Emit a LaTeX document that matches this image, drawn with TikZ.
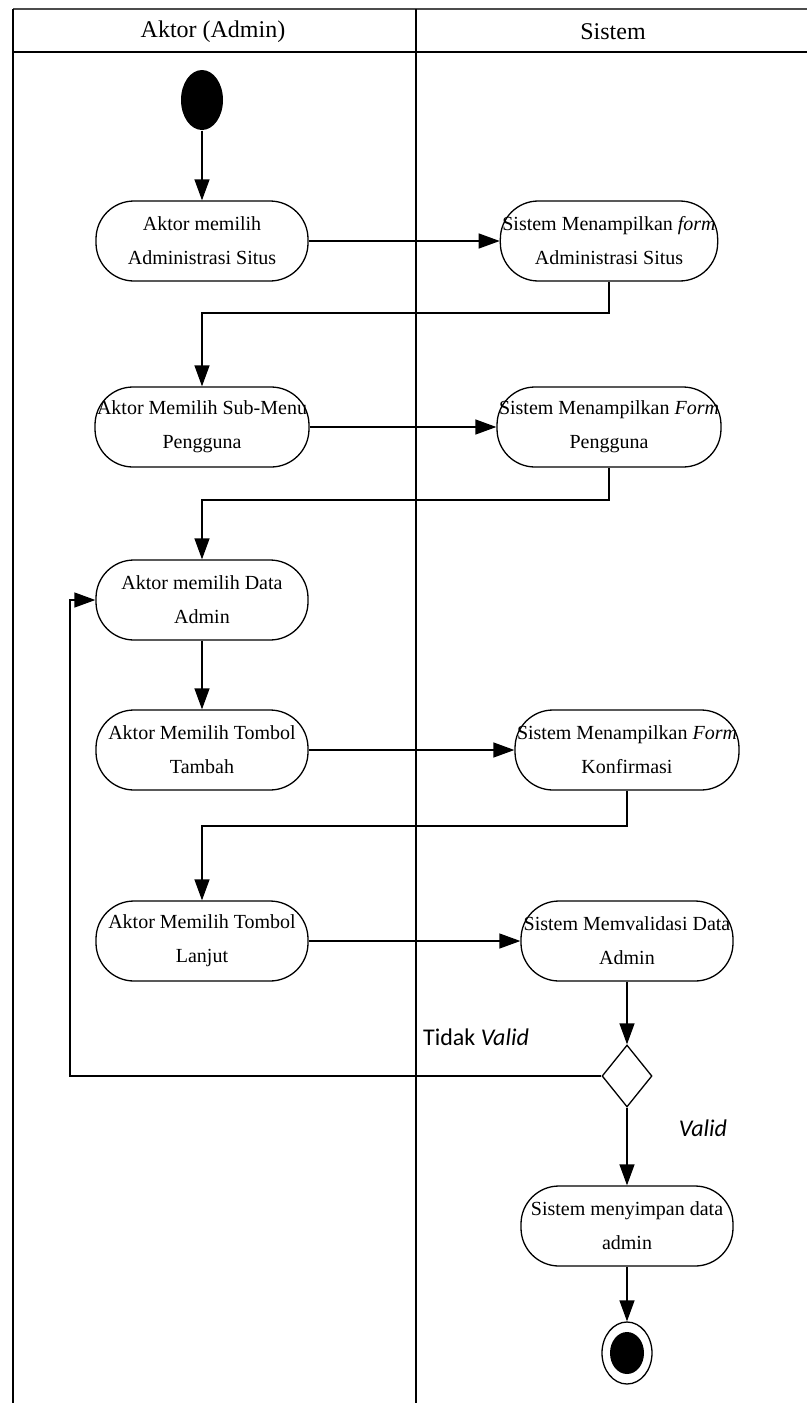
\documentclass[tikz,border=0pt]{standalone}
\usepackage{fontspec}
\setmainfont{Liberation Serif}
\newfontfamily\guardfont{Carlito}
\usetikzlibrary{arrows.meta,shapes.geometric}

\begin{document}
\begin{tikzpicture}[x=0.5pt,y=-0.5pt,line width=0.65pt,
  act/.style={draw,rounded corners=19pt,minimum width=106pt,minimum height=40pt,
    inner sep=1pt,align=center,font=\fontsize{10}{17}\selectfont},
  flow/.style={-{Triangle[length=10.5pt,width=7.5pt]}},
  lane/.style={line width=0.9pt},
  guard/.style={font=\guardfont\fontsize{12}{14}\selectfont}]
  \useasboundingbox (0,0) rectangle (807,1403);
  \draw[gray!60!black,line width=1.4pt] (13,9) -- (807,9);
  \draw[lane] (13,52) -- (807,52);
  \draw[lane] (13,9) -- (13,1403);
  \draw[lane] (416,9) -- (416,1403);
  \node[font=\fontsize{12}{14}\selectfont] (laneA) at (213,32) {Aktor (Admin)};
  \node[font=\fontsize{12}{14}\selectfont] (laneS) at (613,32) {Sistem};
  \node[ellipse,fill=black,minimum width=21pt,minimum height=30pt,inner sep=0] (mulai) at (202,100) {};
  \node[act] (A) at (202,241) {Aktor memilih\\Administrasi Situs};
  \node[act,minimum width=107pt] (B) at (609,241) {Sistem Menampilkan \textit{form}\\Administrasi Situs};
  \node[act] (C) at (202,427) {Aktor Memilih Sub-Menu\\Pengguna};
  \node[act,minimum width=108pt] (D) at (609,427) {Sistem Menampilkan \textit{Form}\\Pengguna};
  \node[act] (E) at (202,600) {Aktor memilih Data\\Admin};
  \node[act] (F) at (202,750) {Aktor Memilih Tombol\\Tambah};
  \node[act] (G) at (627,750) {Sistem Menampilkan \textit{Form}\\Konfirmasi};
  \node[act] (H) at (202,941) {Aktor Memilih Tombol\\Lanjut};
  \node[act] (I) at (627,941) {Sistem Memvalidasi Data\\Admin};
  \node[diamond,draw,minimum width=25pt,minimum height=31pt,inner sep=0] (K) at (627,1076) {};
  \node[act] (J) at (627,1226) {Sistem menyimpan data\\admin};
  \node[ellipse,draw,minimum width=25pt,minimum height=31pt,inner sep=0] (selesai) at (627,1353) {};
  \node[ellipse,fill=black,minimum width=17pt,minimum height=21pt,inner sep=0] (selesaiIn) at (selesai) {};
  \coordinate (balik) at (70,1076);
  \node[guard] (tidak) at (476,1037) {Tidak \textit{Valid}};
  \node[guard] (valid) at (703,1128) {\textit{Valid}};
  \draw[flow] (mulai) -- (A);
  \draw[flow] (A) -- (B);
  \draw[flow] (B.south) |- (202,313) -- (C);
  \draw[flow] (C) -- (D);
  \draw[flow] (D.south) |- (202,500) -- (E);
  \draw[flow] (E) -- (F);
  \draw[flow] (F) -- (G);
  \draw[flow] (G.south) |- (202,826) -- (H);
  \draw[flow] (H) -- (I);
  \draw[flow] (I) -- (K);
  \draw[flow] (K.west) -- (balik) |- (E.west);
  \draw[flow] (K) -- (J);
  \draw[flow] (J) -- (selesai);
\end{tikzpicture}
\end{document}
